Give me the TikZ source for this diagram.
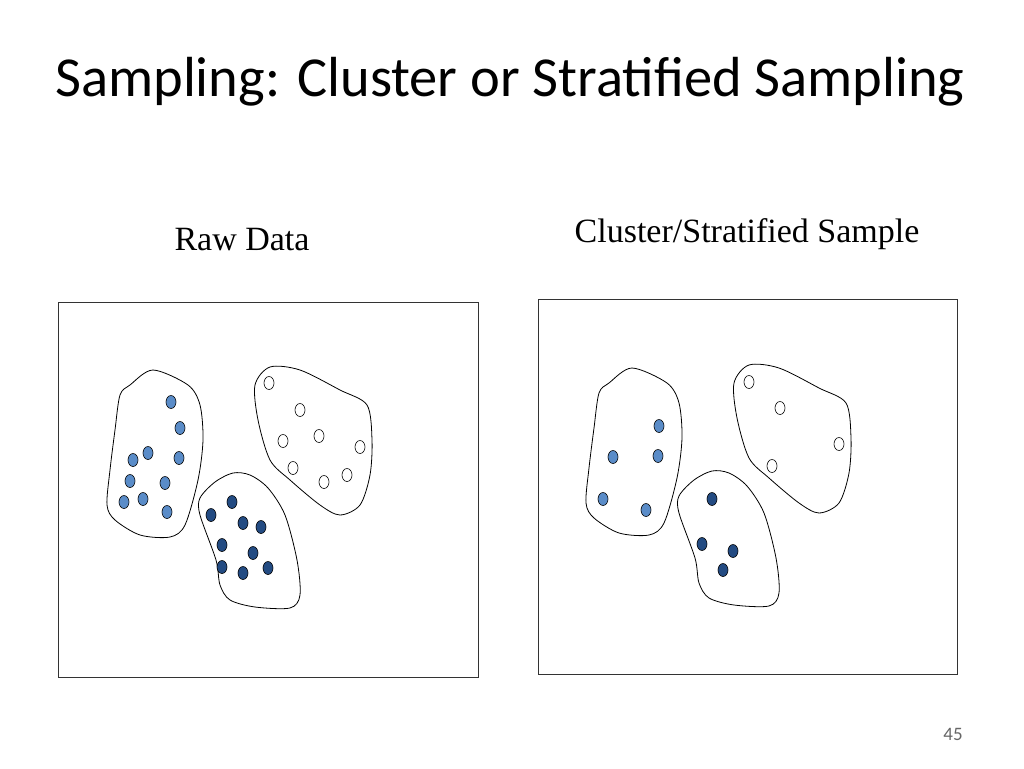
\documentclass[tikz,border=0pt]{standalone}
\usepackage{fontspec}
\setmainfont{Liberation Serif}
\newfontfamily\calfont{Carlito}
\begin{document}
\begin{tikzpicture}[x=1pt,y=-1pt,
  wh/.style={draw=black,fill=white,line width=0.6pt},
  blob/.style={draw=black,line width=0.8pt},
  frame/.style={draw=black!80,line width=0.8pt}]
\tikzset{lt/.style={draw=black,fill={rgb,255:red,90;green,140;blue,200},line width=0.6pt},
  dk/.style={draw=black,fill={rgb,255:red,35;green,75;blue,130},line width=0.6pt}}
\useasboundingbox (0,0) rectangle (1024,768);
\node[font=\calfont\fontsize{56.5}{62}\selectfont,anchor=west,inner sep=0pt] (title) at (55,82) {Sampling: Cluster or Stratified Sampling};
\node[font=\fontsize{34}{38}\selectfont] (h1) at (242,240) {Raw Data};
\node[font=\fontsize{34}{38}\selectfont] (h2) at (747,234) {Cluster/Stratified Sample};
\node[font=\calfont\fontsize{19}{22}\selectfont,text=black!60] (pg) at (953,734) {45};
\draw[frame] (58,302) rectangle (478,677);
\draw[frame] (538,299) rectangle (957,674);
\foreach \dx/\dy in {0/0,479/-2}{
\begin{scope}[shift={(\dx,\dy)}]
\draw[blob] plot[smooth cycle,tension=0.5] coordinates {(153,370)(188,385)(200,405)(203,440)(198,480)(185,525)(170,537)(140,535)(115,520)(107,505)(110,470)(115,430)(120,395)(130,385)};
\draw[blob] plot[smooth cycle,tension=0.5] coordinates {(233,473)(250,475)(268,488)(285,515)(297,560)(300,595)(290,608)(255,607)(230,600)(220,585)(216,560)(200,515)(200,498)(215,482)};
\draw[blob] plot[smooth cycle,tension=0.5] coordinates {(270,367)(300,370)(340,390)(367,405)(372,440)(370,475)(360,505)(340,515)(320,505)(290,480)(270,460)(258,420)(255,385)};
\end{scope}}
\foreach \p in {(171,402),(180,428),(148,453),(133,460),(179,458),(130,481),(165,483),(124,502),(143,499),(167,512),
  (659,426),(613,457),(658,456),(603,499),(646,510)} \draw[lt] \p ellipse (5pt and 6.5pt);
\foreach \p in {(232,502),(211,515),(243,523),(261,527),(222,545),(253,553),(222,567),(243,573),(268,568),
  (712,499),(702,544),(733,551),(723,570)} \draw[dk] \p ellipse (5pt and 6.5pt);
\foreach \p in {(269,383),(300,410),(319,436),(283,441),(360,447),(293,468),(324,482),(347,475),
  (749,382),(780,408),(839,444),(772,466)} \draw[wh] \p ellipse (5pt and 6.5pt);
\end{tikzpicture}
\end{document}
